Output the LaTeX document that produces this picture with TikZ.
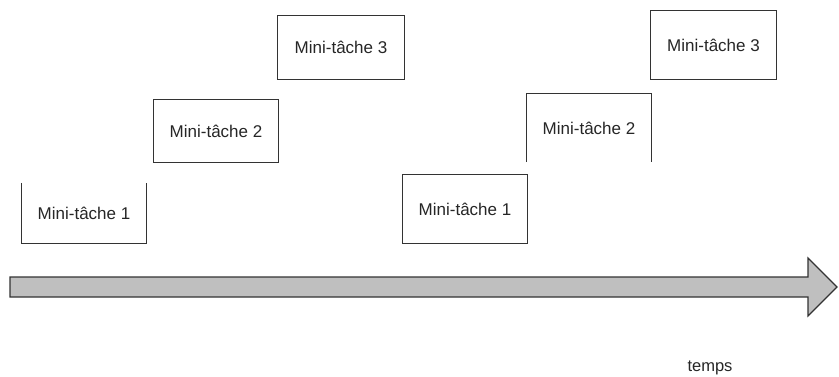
\documentclass[tikz,border=0pt]{standalone}
\usepackage{fontspec}
\setmainfont{Liberation Sans}
\begin{document}
\begin{tikzpicture}[x=1pt,y=-1pt,
  task/.style={inner sep=0pt, minimum width=124pt, font=\fontsize{17}{19}\selectfont, text=black!85},
  edge/.style={draw=black!80, line width=1.1pt},
  label/.style={inner sep=0pt, font=\fontsize{16.5}{18}\selectfont, text=black!85}]
\useasboundingbox (0,0) rectangle (839,377);
% left group
\node[task, minimum height=60pt] (a1) at (84,213) {Mini-tâche 1};
\node[task, minimum height=62pt] (a2) at (216,131) {Mini-tâche 2};
\node[task, minimum height=63pt, minimum width=126pt] (a3) at (341,47.5) {Mini-tâche 3};
% right group
\node[task, minimum height=68pt] (b1) at (465,209) {Mini-tâche 1};
\node[task, minimum height=68pt] (b2) at (589,128) {Mini-tâche 2};
\node[task, minimum height=68pt, minimum width=125pt] (b3) at (713.5,45) {Mini-tâche 3};
\draw[edge] (a1.north west) -- (a1.south west) -- (a1.south east) -- (a1.north east);
\draw[edge] (a2.north west) rectangle (a2.south east);
\draw[edge] (a3.north west) rectangle (a3.south east);
\draw[edge] (b1.north west) rectangle (b1.south east);
\draw[edge] (b2.south west) -- (b2.north west) -- (b2.north east) -- (b2.south east);
\draw[edge] (b3.north west) rectangle (b3.south east);
% time arrow
\draw[fill=black!25, draw=black!80, line width=1.1pt, line join=miter]
  (10,277) -- (808,277) -- (808,258) -- (837,287) -- (808,316) -- (808,297) -- (10,297) -- cycle;
\node[label] (t) at (710,368) {temps};
\end{tikzpicture}
\end{document}
